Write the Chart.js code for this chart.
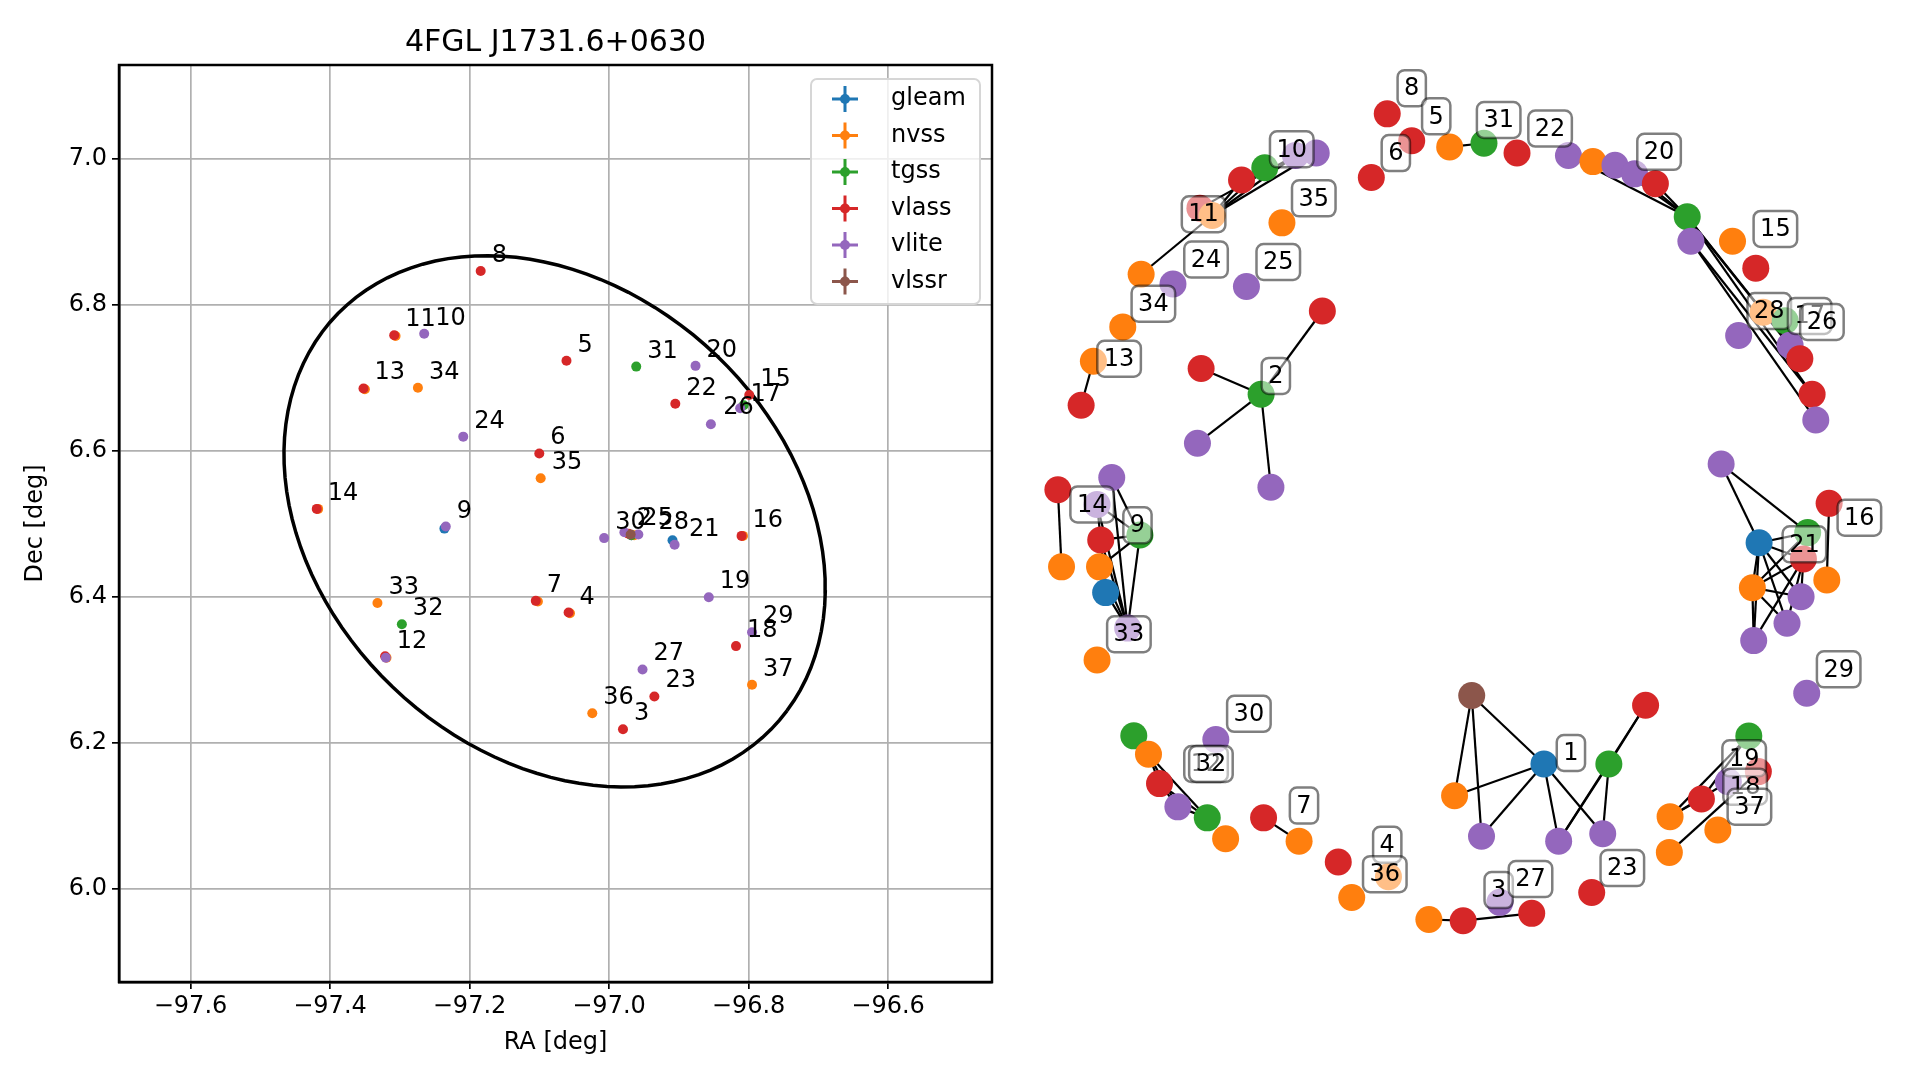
<!DOCTYPE html>
<html>
<head>
<meta charset="utf-8">
<script src="https://cdn.jsdelivr.net/npm/chart.js@4"></script>
<style>
  body { margin: 0; background: #fff; }
  #left { position: absolute; left: 0; top: 0; width: 1010px; height: 1080px; }
  #right { position: absolute; left: 1010px; top: 0; width: 909px; height: 1080px; }
</style>
</head>
<body>
<div id="left"><canvas id="skyChart"></canvas></div>
<div id="right"><canvas id="graphChart"></canvas></div>
<script>
// --- catalogs ---
const catalogs = ['gleam', 'nvss', 'tgss', 'vlass', 'vlite', 'vlssr'];
const catalogColors = ['#1f77b4', '#ff7f0e', '#2ca02c', '#d62728', '#9467bd', '#8c564b'];

// --- sky positions (RA, Dec in deg) per catalog ---
const gleamRA = [-97.236, -96.909, -96.968];
const gleamDec = [6.493, 6.477, 6.484];
const nvssRA = [-97.350, -97.306, -97.274, -97.098, -97.332, -97.102, -97.056, -97.024, -96.795, -97.417, -97.319, -96.808, -96.964];
const nvssDec = [6.684, 6.757, 6.686, 6.562, 6.391, 6.393, 6.377, 6.240, 6.279, 6.520, 6.316, 6.483, 6.484];
const tgssRA = [-96.961, -97.297, -96.807, -96.968];
const tgssDec = [6.715, 6.362, 6.662, 6.484];
const vlassRA = [-97.184, -97.308, -97.352, -97.061, -96.799, -96.905, -97.100, -97.419, -97.105, -97.058, -97.321, -96.810, -96.818, -96.935, -96.980, -96.972];
const vlassDec = [6.846, 6.758, 6.685, 6.723, 6.676, 6.664, 6.596, 6.520, 6.394, 6.378, 6.318, 6.483, 6.332, 6.263, 6.218, 6.486];
const vliteRA = [-97.265, -96.876, -96.812, -96.854, -97.209, -97.234, -97.007, -96.978, -96.958, -96.906, -96.857, -96.795, -96.952, -97.320];
const vliteDec = [6.760, 6.716, 6.658, 6.636, 6.619, 6.496, 6.480, 6.488, 6.485, 6.471, 6.399, 6.351, 6.300, 6.316];
const vlssrRA = [-96.969];
const vlssrDec = [6.485];

// source numbers written next to the points
const skyLabelText = ['8','11','10','13','34','5','31','20','15','17','22','26','24','6','35','14','9','30','2','25','28','21','16','19','7','4','33','32','12','18','29','27','23','37','36','3'];
const skyLabelRA = [-97.184,-97.308,-97.265,-97.352,-97.274,-97.061,-96.961,-96.876,-96.799,-96.813,-96.905,-96.852,-97.209,-97.100,-97.098,-97.419,-97.234,-97.007,-96.976,-96.968,-96.945,-96.901,-96.810,-96.857,-97.105,-97.058,-97.332,-97.297,-97.320,-96.818,-96.795,-96.952,-96.935,-96.795,-97.024,-96.980];
const skyLabelDec = [6.846,6.758,6.760,6.685,6.686,6.723,6.715,6.716,6.676,6.656,6.664,6.638,6.619,6.596,6.562,6.520,6.495,6.480,6.486,6.485,6.480,6.470,6.483,6.399,6.394,6.378,6.391,6.362,6.317,6.332,6.351,6.300,6.263,6.279,6.240,6.218];

// 4FGL error ellipse: centre, semi-axes (deg), position angle (deg)
const ellipseCenter = [-97.078, 6.503];
const ellipseAxes = [0.4223, 0.3236];
const ellipseAngle = -37.9;

const xTicks = [-97.6, -97.4, -97.2, -97.0, -96.8, -96.6];
const yTicks = [6.0, 6.2, 6.4, 6.6, 6.8, 7.0];
const xRange = [-97.7025, -96.451];
const yRange = [5.8717, 7.1283];

// --- association graph (layout units) ---
const nodeX = [1133,1153,1120,1184,1212,1239,1281,1301,1319,1335,1352,1378,1381,1415,1434,
  1420,1440,1458,1462,1470,1480,1483,
  1075,1058,1033,1014,980,990,932,958,917,893,883,1047,1018,
  1080,1030,981,978,1038,
  908,864,896,899,931,867,898,903,921,896,
  926,938,947,993,962,986,1001,
  1032,1061,1093,1104,1134,1167,1195,1225,1251,1300,
  1202,1344,1261,1314,1188,1210,1273,1309,
  1428.3,1436.1,1411.6,1389.6,1364.0,1403.0,1363.4,1475.6,
  1405.7,1493.9,1436.7,1476.4,1472.9,1492.0,1431.2,1471.0,1459.5,1432.3];
const nodeY = [93,115,145,120,117,125,127,132,135,142,150,177,197,197,219,
  274,255,262,282,293,322,343,
  125,127,137,147,170,176,224,232,267,295,331,182,234,
  254,322,301,362,398,
  390,400,412,441,437,463,463,484,513,539,
  601,616,640,604,659,668,685,
  668,687,704,733,716,751,752,737,746,729,
  568,576,624,624,650,683,687,681,
  601.1,630.2,638.5,652.6,667.0,677.9,696.2,566.2,
  379.0,411.1,443.3,435.0,456.5,473.7,480.0,487.4,509.1,523.2];
const nodeCat = [3,3,3,1,2,3,4,1,4,4,3,2,4,1,3,
  4,1,2,4,3,3,4,
  4,4,2,3,3,1,1,4,1,1,3,1,4,
  3,2,3,4,4,
  4,3,4,3,2,1,1,0,4,1,
  2,1,3,4,4,2,1,
  3,1,3,1,1,1,3,4,3,3,
  5,3,0,2,1,4,4,4,
  2,3,4,3,1,1,1,4,
  4,3,0,2,3,1,1,4,4,4];
const edges = [[3,4],[6,11],[8,11],[9,11],[10,11],[11,19],[11,20],[12,20],[12,21],[11,18],
  [27,22],[27,23],[27,24],[27,25],[26,23],[28,27],[31,32],
  [36,35],[36,37],[36,38],[36,39],
  [41,45],[40,44],[40,48],[48,42],[48,43],[48,44],[48,46],[48,47],[46,44],[47,43],[43,42],[43,44],[42,44],
  [51,52],[51,54],[52,54],[52,55],[54,55],[51,55],
  [57,58],[62,63],[63,65],
  [67,69],[67,71],[67,72],[69,71],[69,72],[69,73],[69,74],[68,70],[68,73],[70,73],[70,74],
  [75,79],[75,78],[77,79],[76,81],[78,79],
  [83,85],[83,86],[84,88],[85,86],[85,87],[85,89],[85,90],[85,91],[85,92],
  [89,86],[89,87],[89,90],[89,91],[89,92],[92,87],[87,90],[91,87]];
const graphLabelText = ['8','5','6','31','22','20','15','28','17','26','10','11','35','24','25','34','13','2','14','9','33','30','12','32','7','4','36','3','27','23','1','19','18','37','29','21','16'];
const graphLabelX = [1153,1173,1140,1224,1266,1355,1450,1445,1478,1488,1055,983,1073,985,1044,942,914,1042,892,929,922,1020,985,989,1065,1133,1131,1224,1250,1325,1283,1424.5,1425.3,1428.8,1501.7,1473.7,1518.6];
const graphLabelY = [72,95,125,98,105,124,187,254,258,263,122,175,162,212,214,248,293,307,412,429,518,583,624,624,658,690,714,727,718,709,615,619.4,642.5,658.9,546.7,444.6,422.8];

const FONT = 'DejaVu Sans';

// ---------- left: sky plot ----------
function ellipsePoints() {
  const pts = [];
  const th = ellipseAngle * Math.PI / 180;
  for (let i = 0; i <= 120; i++) {
    const t = i / 120 * 2 * Math.PI;
    const u = ellipseAxes[0] * Math.cos(t), v = ellipseAxes[1] * Math.sin(t);
    pts.push({ x: ellipseCenter[0] + u * Math.cos(th) - v * Math.sin(th),
               y: ellipseCenter[1] + u * Math.sin(th) + v * Math.cos(th) });
  }
  return pts;
}

const skyRA = [gleamRA, nvssRA, tgssRA, vlassRA, vliteRA, vlssrRA];
const skyDec = [gleamDec, nvssDec, tgssDec, vlassDec, vliteDec, vlssrDec];

const skyDatasets = catalogs.map((name, i) => ({
  label: name,
  data: skyRA[i].map((ra, j) => ({ x: ra, y: skyDec[i][j] })),
  backgroundColor: catalogColors[i],
  borderWidth: 0,
  pointRadius: 5,
  order: 10 - i
}));
skyDatasets.push({
  type: 'line', label: 'ellipse', data: ellipsePoints(),
  borderColor: '#000', borderWidth: 3.5, pointRadius: 0, fill: false, tension: 0, order: 20
});

const skyDecor = {
  id: 'skyDecor',
  afterDatasetsDraw(chart) {
    const { ctx, scales: { x, y } } = chart;
    ctx.save();
    ctx.fillStyle = '#000';
    ctx.font = `24px "${FONT}"`;
    ctx.textAlign = 'left';
    ctx.textBaseline = 'alphabetic';
    skyLabelText.forEach((t, i) => {
      ctx.fillText(t, x.getPixelForValue(skyLabelRA[i]) + 11, y.getPixelForValue(skyLabelDec[i]) - 9);
    });
    ctx.restore();
  },
  afterDraw(chart) {
    const { ctx, chartArea: a } = chart;
    ctx.save();
    // spines
    ctx.strokeStyle = '#000';
    ctx.lineWidth = 2.5;
    ctx.strokeRect(a.left, a.top, a.right - a.left, a.bottom - a.top);
    // title + axis labels
    ctx.fillStyle = '#000';
    ctx.textAlign = 'center';
    ctx.font = `30px "${FONT}"`;
    ctx.textBaseline = 'alphabetic';
    ctx.fillText('4FGL J1731.6+0630', (a.left + a.right) / 2, 51);
    ctx.font = `24px "${FONT}"`;
    ctx.textBaseline = 'middle';
    ctx.fillText('RA [deg]', (a.left + a.right) / 2, 1043);
    ctx.translate(36, (a.top + a.bottom) / 2);
    ctx.rotate(-Math.PI / 2);
    ctx.fillText('Dec [deg]', 0, 0);
    ctx.restore();

    // legend
    ctx.save();
    const lx = 811, ly = 79, lw = 169, lh = 225;
    ctx.beginPath();
    ctx.roundRect(lx, ly, lw, lh, 6);
    ctx.fillStyle = 'rgba(255,255,255,0.8)';
    ctx.fill();
    ctx.strokeStyle = '#d6d6d6';
    ctx.lineWidth = 2;
    ctx.stroke();
    ctx.font = `24px "${FONT}"`;
    ctx.textBaseline = 'middle';
    ctx.textAlign = 'left';
    catalogs.forEach((name, i) => {
      const cy = 99 + i * 36.5, cx = 845;
      ctx.strokeStyle = catalogColors[i];
      ctx.lineWidth = 3;
      ctx.beginPath();
      ctx.moveTo(cx - 13, cy); ctx.lineTo(cx + 13, cy);
      ctx.moveTo(cx, cy - 13); ctx.lineTo(cx, cy + 13);
      ctx.stroke();
      ctx.fillStyle = catalogColors[i];
      ctx.beginPath();
      ctx.arc(cx, cy, 5, 0, 2 * Math.PI);
      ctx.fill();
      ctx.fillStyle = '#000';
      ctx.fillText(name, 891, cy);
    });
    ctx.restore();
  }
};

const minus = v => (v < 0 ? '\u2212' : '') + Math.abs(v).toFixed(1);

new Chart(document.getElementById('skyChart'), {
  type: 'scatter',
  data: { datasets: skyDatasets },
  options: {
    responsive: true, maintainAspectRatio: false, animation: false, events: [],
    layout: { padding: { top: 65, right: 18, left: 0, bottom: 0 } },
    plugins: { legend: { display: false }, title: { display: false }, tooltip: { enabled: false } },
    scales: {
      x: {
        type: 'linear', min: xRange[0], max: xRange[1],
        afterBuildTicks: s => { s.ticks = xTicks.map(v => ({ value: v })); },
        afterFit: s => { s.height = 98; },
        grid: { color: '#b0b0b0', lineWidth: 1.7, tickColor: '#000', tickLength: 7, tickWidth: 1.7 },
        border: { display: true, color: '#000', width: 2.5 },
        ticks: { color: '#000', font: { family: FONT, size: 24 }, padding: 3, maxRotation: 0, callback: minus }
      },
      y: {
        type: 'linear', min: yRange[0], max: yRange[1],
        afterBuildTicks: s => { s.ticks = yTicks.map(v => ({ value: v })); },
        afterFit: s => { s.width = 119; },
        grid: { color: '#b0b0b0', lineWidth: 1.7, tickColor: '#000', tickLength: 7, tickWidth: 1.7 },
        border: { display: true, color: '#000', width: 2.5 },
        ticks: { color: '#000', font: { family: FONT, size: 24 }, padding: 5, callback: v => v.toFixed(1) }
      }
    }
  },
  plugins: [skyDecor]
});

// ---------- right: association graph ----------
const edgeDatasets = edges.map(([i, j]) => ({
  type: 'line',
  data: [{ x: nodeX[i], y: nodeY[i] }, { x: nodeX[j], y: nodeY[j] }],
  borderColor: '#000', borderWidth: 2.2, pointRadius: 0, fill: false, order: 5
}));
const nodeDataset = {
  data: nodeX.map((x, i) => ({ x, y: nodeY[i] })),
  backgroundColor: nodeCat.map(c => catalogColors[c]),
  borderWidth: 0, pointRadius: 13.5, order: 1
};

const graphLabels = {
  id: 'graphLabels',
  afterDatasetsDraw(chart) {
    const { ctx, scales: { x, y } } = chart;
    ctx.save();
    ctx.font = `24px "${FONT}"`;
    ctx.textAlign = 'center';
    ctx.textBaseline = 'middle';
    graphLabelText.forEach((t, i) => {
      const cx = x.getPixelForValue(graphLabelX[i]);
      const cy = y.getPixelForValue(graphLabelY[i]);
      const w = ctx.measureText(t).width + 13, h = 36;
      ctx.beginPath();
      ctx.roundRect(cx - w / 2, cy - h / 2, w, h, 7);
      ctx.fillStyle = 'rgba(255,255,255,0.5)';
      ctx.fill();
      ctx.strokeStyle = 'rgba(0,0,0,0.5)';
      ctx.lineWidth = 2.5;
      ctx.stroke();
      ctx.fillStyle = '#000';
      ctx.fillText(t, cx, cy + 1);
    });
    ctx.restore();
  }
};

new Chart(document.getElementById('graphChart'), {
  type: 'scatter',
  data: { datasets: [nodeDataset, ...edgeDatasets] },
  options: {
    responsive: true, maintainAspectRatio: false, animation: false, events: [],
    layout: { padding: 0, autoPadding: false },
    plugins: { legend: { display: false }, tooltip: { enabled: false } },
    scales: {
      x: { type: 'linear', display: false, min: 824.9, max: 1567.3 },
      y: { type: 'linear', display: false, min: 0, max: 882.1, reverse: true }
    }
  },
  plugins: [graphLabels]
});
</script>
</body>
</html>
